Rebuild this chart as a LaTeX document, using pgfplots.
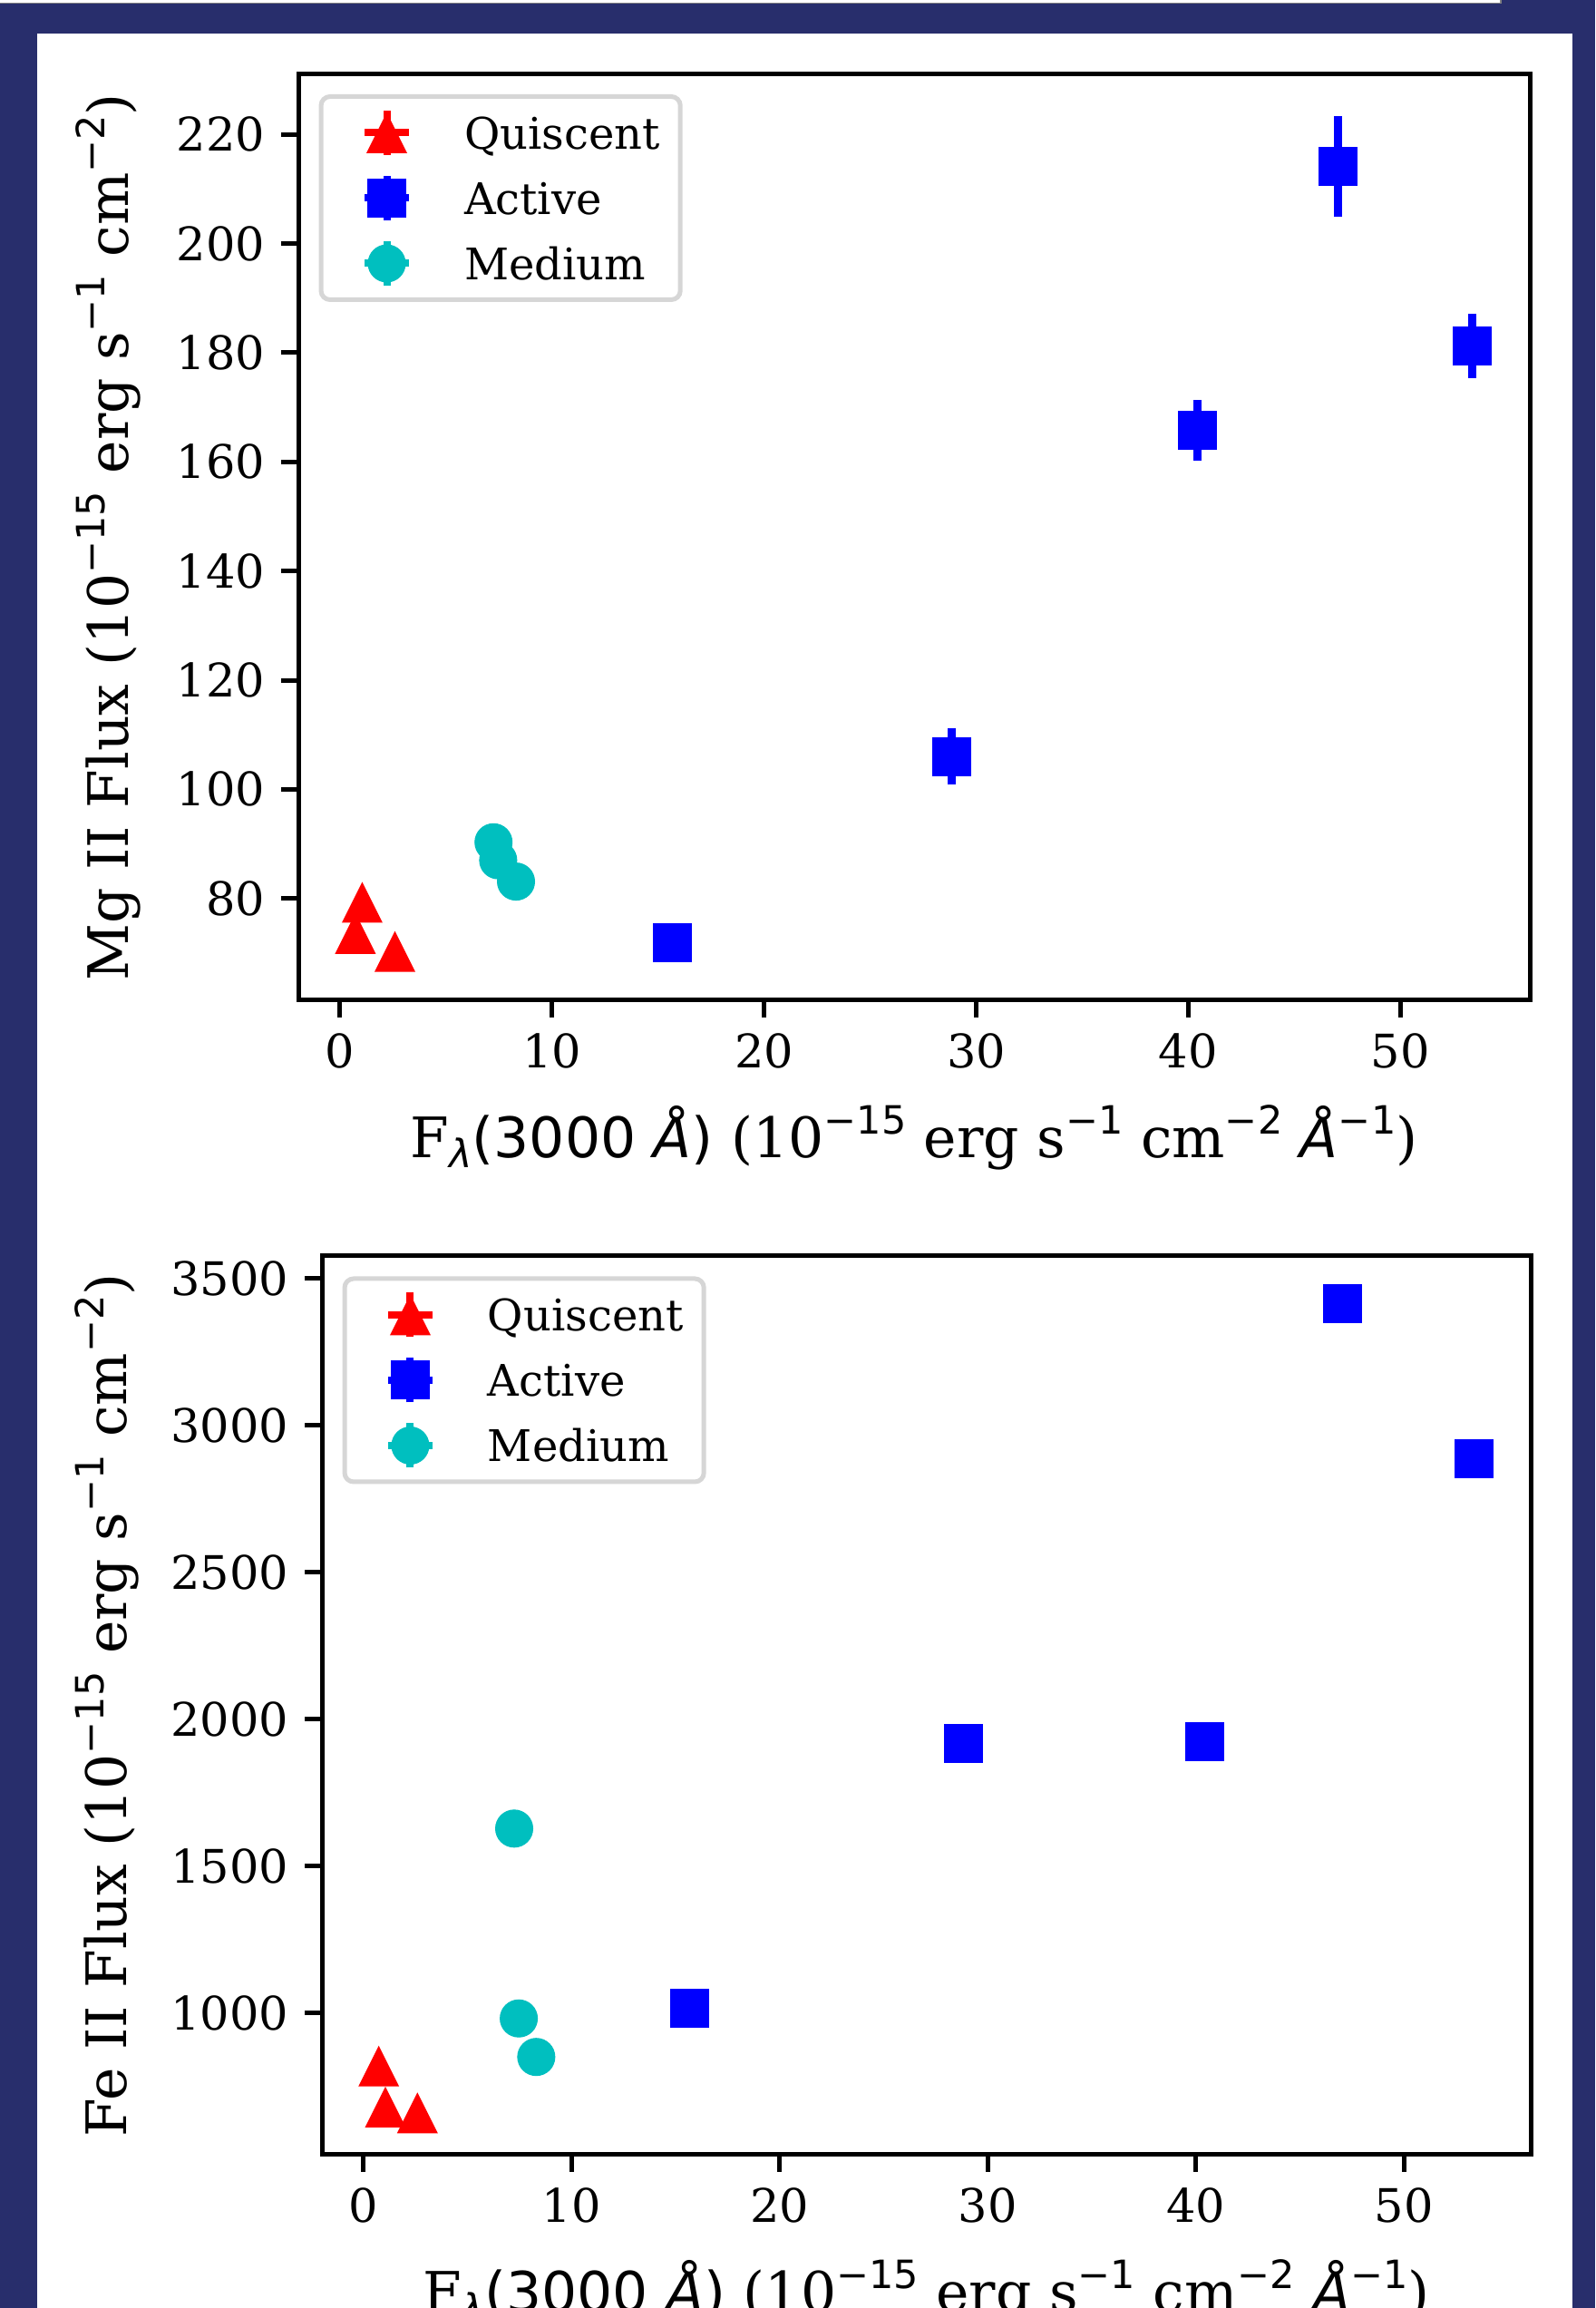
\documentclass[border=0pt]{standalone}
\usepackage{pgfplots}
\usepackage{pgfplotstable}
\pgfplotsset{compat=1.18}
\usepackage{fontspec}
\setmainfont{DejaVu Serif}
\newfontfamily\msans{DejaVu Sans}

\definecolor{navy}{RGB}{40,46,108}
\definecolor{mcyan}{RGB}{0,191,191}
\definecolor{legframe}{RGB}{214,214,214}

% matplotlib-like mathtext bits
\newcommand\sups[1]{\raisebox{0.42em}{\fontsize{8.6}{10}\selectfont\msans #1}}
\newcommand\subs[1]{\raisebox{-0.18em}{\fontsize{8.6}{10}\selectfont\msans\itshape #1}}

% triangle centred at mid height, like matplotlib's '^'
\pgfdeclareplotmark{mtri}{%
  \pgfpathmoveto{\pgfqpoint{0pt}{\pgfplotmarksize}}%
  \pgfpathlineto{\pgfqpoint{-\pgfplotmarksize}{-\pgfplotmarksize}}%
  \pgfpathlineto{\pgfqpoint{\pgfplotmarksize}{-\pgfplotmarksize}}%
  \pgfpathclose\pgfusepathqfill}

% columns: x, Mg II flux, its error, Fe II flux
\pgfplotstableread{
x mg mge fe
0.74 73.6 0 820
1.06 79.3 0 681
2.60 70.3 0 661
}\tabQ
\pgfplotstableread{
x mg mge fe
15.67 71.9 3.0 1016
28.86 106.0 5.15 1918
40.45 165.75 5.6 1925
47.05 214.1 9.25 3414
53.37 181.3 5.9 2886
}\tabA
\pgfplotstableread{
x mg mge fe
7.25 90.3 0 1628
7.47 87.0 0 982
8.31 83.1 0 851
}\tabM

\pgfplotsset{
  panel/.style={
    scale only axis,
    axis line style={line width=1pt},
    tick align=outside, tick pos=left,
    major tick length=3.8pt,
    tick style={line width=1pt, black},
    minor tick num=0,
    tick label style={font=\fontsize{10.2}{12}\selectfont},
    scaled ticks=false,
    /pgf/number format/assume math mode=true,
    /pgf/number format/set thousands separator={},
    xtick={0,10,...,50},
    every axis x label/.style={at={(axis description cs:0.5,0)}, anchor=base,
      yshift=-34.8pt, font=\fontsize{12.3}{15}\selectfont},
    xlabel={F\subs{λ}{\msans(3000 {\itshape Å})} (10\sups{−15} erg s\sups{−1} cm\sups{−2} {\msans\itshape Å}\sups{−1})},
    legend cell align=left,
    legend style={at={(axis description cs:0,1)}, anchor=north west,
      xshift=4.5pt, yshift=-4.5pt, draw=legframe, line width=1pt,
      rounded corners=2pt, fill=white, inner xsep=0pt, inner ysep=0.8pt,
      row sep=0pt, column sep=0pt,
      nodes={inner sep=0pt, text height=10.8pt, text depth=3.6pt, anchor=west,
        font=\fontsize{9.6}{12}\selectfont}},
  },
  ylab/.style={every axis y label/.style={at={(axis description cs:#1,0.5)},
      rotate=90, anchor=base, font=\fontsize{12.3}{15}\selectfont}},
  errleg/.style={legend image code/.code={
    \path (-14.0pt,0pt) (16.6pt,0pt);
    \draw[line width=1.6pt, sharp corners] (-4.9pt,0pt)--(4.9pt,0pt) (0pt,-4.9pt)--(0pt,4.9pt);
    \draw[sharp corners] plot[only marks] coordinates {(0pt,0pt)};}},
  qstyle/.style={only marks, red, mark=mtri, mark size=4.5pt, mark options={sharp corners}, errleg},
  astyle/.style={only marks, blue, mark=square*, mark size=4.2pt, mark options={line width=0.2pt, sharp corners}, errleg},
  mstyle/.style={only marks, mcyan, mark=*, mark size=4.1pt, mark options={line width=0.2pt, sharp corners}, errleg},
}

\begin{document}
\begin{tikzpicture}
\path[use as bounding box] (0,0) rectangle (351.8pt,509pt);
\clip (0,0) rectangle (351.8pt,509pt);
\fill[navy] (0,0) rectangle (351.8pt,509pt);
\fill[white] (8.2pt,0pt) rectangle (346.8pt,501.6pt);
\fill[white] (0pt,508.3pt) rectangle (331pt,509pt);
\draw[gray, line width=0.3pt] (0pt,508.3pt) -- (331pt,508.3pt) -- (331pt,509pt);

% Mg II panel
\begin{axis}[panel,
  at={(65.8pt,288.46pt)}, anchor=south west,
  width=271.6pt, height=204.24pt,
  xmin=-1.95, xmax=56.1, ymin=61.4, ymax=231.1,
  ytick={80,100,...,220},
  ylab=-0.1379,
  ylabel={Mg II Flux (10\sups{−15} erg s\sups{−1} cm\sups{−2})},
]
\addplot[qstyle] table[x=x, y=mg] {\tabQ};
\addplot[astyle, error bars/.cd, y dir=both, y explicit, error mark=none,
  error bar style={line width=1.8pt, blue}] table[x=x, y=mg, y error=mge] {\tabA};
\addplot[mstyle] table[x=x, y=mg] {\tabM};
\legend{Quiscent\hspace*{4.5pt}, Active, Medium}
\end{axis}

% Fe II panel
\begin{axis}[panel,
  at={(71.0pt,33.88pt)}, anchor=south west,
  width=266.6pt, height=198.12pt,
  xmin=-1.99, xmax=56.1, ymin=519.6, ymax=3575.9,
  ytick={1000,1500,...,3500},
  ylab=-0.1613,
  ylabel={Fe II Flux (10\sups{−15} erg s\sups{−1} cm\sups{−2})},
]
\addplot[qstyle] table[x=x, y=fe] {\tabQ};
\addplot[astyle] table[x=x, y=fe] {\tabA};
\addplot[mstyle] table[x=x, y=fe] {\tabM};
\legend{Quiscent\hspace*{4.5pt}, Active, Medium}
\end{axis}
\end{tikzpicture}
\end{document}
